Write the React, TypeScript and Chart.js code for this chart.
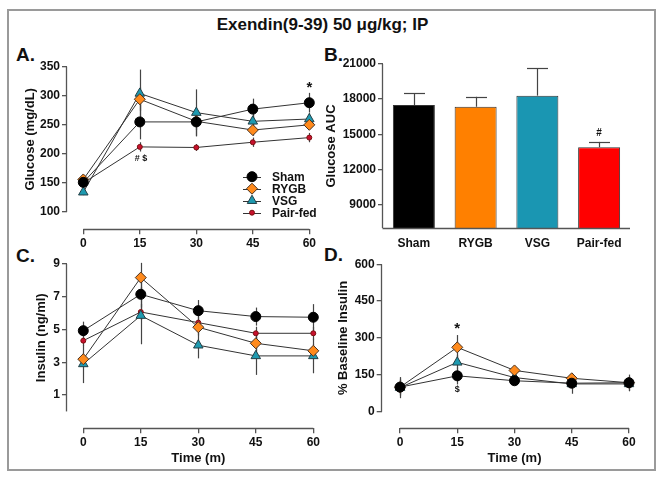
import React, { useEffect, useRef } from 'react';
import { Chart, registerables } from 'chart.js';
Chart.register(...registerables);

const FONT = '"Liberation Sans", Arial, Helvetica, sans-serif';
const CANVAS_FONT = 'Arial';

// ---------- data ----------
const times = [0, 15, 30, 45, 60];
const timeTicks = [0, 15, 30, 45, 60];
const groups = ['Sham', 'RYGB', 'VSG', 'Pair-fed'];

// A. Glucose (mg/dL)
const glucoseSham = [151, 255, 255, 277, 288];
const glucoseShamErr = [6, 30, 25, 18, 17];
const glucoseRygb = [156, 294, 256, 241, 250];
const glucoseRygbErr = [5, 20, 15, 10, 8];
const glucoseVsg = [134, 304, 271, 256, 260];
const glucoseVsgErr = [5, 41, 40, 12, 10];
const glucosePair = [150, 212, 211, 220, 228];
const glucosePairErr = [5, 8, 6, 8, 8];
const glucoseTicks = [100, 150, 200, 250, 300, 350];

// B. Glucose AUC
const aucValues = [17500, 17350, 18300, 13900];
const aucErr = [1000, 850, 2350, 450];
const aucTicks = [9000, 12000, 15000, 18000, 21000];
const aucColors = ['#000000', '#FF8000', '#1A96B2', '#FF0000'];

// C. Insulin (ng/ml)
const insulinSham = [4.93, 7.15, 6.15, 5.79, 5.75];
const insulinShamErr = [0.55, 0.8, 0.65, 0.55, 0.8];
const insulinRygb = [3.19, 8.17, 5.14, 4.16, 3.7];
const insulinRygbErr = [0.3, 0.9, 0.5, 0.5, 0.4];
const insulinVsg = [2.9, 5.85, 4.04, 3.39, 3.39];
const insulinVsgErr = [1.17, 1.75, 0.8, 1.16, 1.06];
const insulinPair = [4.32, 6.07, 5.42, 4.77, 4.77];
const insulinPairErr = [0.3, 0.5, 0.4, 0.4, 0.4];
const insulinTicks = [1, 3, 5, 7, 9];

// D. % Baseline Insulin
const pctSham = [100, 146, 126, 116, 118];
const pctShamErr = [35, 35, 15, 20, 33];
const pctRygb = [100, 262, 168, 136, 118];
const pctRygbErr = [30, 50, 15, 20, 20];
const pctVsg = [98, 201, 139, 113, 113];
const pctVsgErr = [43, 30, 15, 40, 30];
const pctTicks = [0, 150, 300, 450, 600];

// ---------- styles ----------
const markerStyles: Record<string, any> = {
  Sham: { pointStyle: 'circle', radius: 5, bg: '#000000', border: '#000000' },
  RYGB: { pointStyle: 'rectRot', radius: 5.5, bg: '#FF8A1C', border: '#4a3220' },
  VSG: { pointStyle: 'triangle', radius: 5.5, bg: '#1E9AB0', border: '#233f46' },
  'Pair-fed': { pointStyle: 'circle', radius: 2.5, bg: '#C8102E', border: '#7a1010' },
};

const AXIS_COLOR = '#555';
const tickFont = { family: FONT, size: 12, weight: 'bold' as const };

function drawMarker(ctx: CanvasRenderingContext2D, name: string, x: number, y: number) {
  const s = markerStyles[name];
  const r = s.radius;
  ctx.beginPath();
  if (s.pointStyle === 'circle') {
    ctx.arc(x, y, r, 0, Math.PI * 2);
  } else if (s.pointStyle === 'rectRot') {
    ctx.moveTo(x - r, y); ctx.lineTo(x, y - r); ctx.lineTo(x + r, y); ctx.lineTo(x, y + r); ctx.closePath();
  } else {
    const a = (2 * Math.PI) / 3;
    ctx.moveTo(x, y - r);
    ctx.lineTo(x + Math.sin(a) * r, y - Math.cos(a) * r);
    ctx.lineTo(x + Math.sin(2 * a) * r, y - Math.cos(2 * a) * r);
    ctx.closePath();
  }
  ctx.fillStyle = s.bg; ctx.strokeStyle = s.border; ctx.lineWidth = 1;
  ctx.fill(); ctx.stroke();
}

const panelPlugin = {
  id: 'panel',
  beforeDatasetsDraw(chart: any, _a: any, opts: any) {
    const ctx = chart.ctx as CanvasRenderingContext2D;
    const ys = chart.scales.y;
    ctx.save();
    ctx.strokeStyle = '#444';
    ctx.lineWidth = 1.2;
    chart.data.datasets.forEach((ds: any, i: number) => {
      const errs = ds.errors;
      if (!errs) return;
      const meta = chart.getDatasetMeta(i);
      meta.data.forEach((el: any, j: number) => {
        const d = ds.data[j];
        const v = typeof d === 'number' ? d : d.y;
        const top = ys.getPixelForValue(v + errs[j]);
        const bot = opts.errUpOnly ? el.y : ys.getPixelForValue(v - errs[j]);
        const x = Math.round(el.x) + 0.5;
        ctx.beginPath(); ctx.moveTo(x, top); ctx.lineTo(x, bot); ctx.stroke();
        if (opts.capWidth) {
          ctx.beginPath();
          ctx.moveTo(x - opts.capWidth / 2, Math.round(top) + 0.5);
          ctx.lineTo(x + opts.capWidth / 2, Math.round(top) + 0.5);
          ctx.stroke();
        }
      });
    });
    ctx.restore();
  },
  afterDraw(chart: any, _a: any, opts: any) {
    const ctx = chart.ctx as CanvasRenderingContext2D;
    const xs = chart.scales.x, ys = chart.scales.y, ca = chart.chartArea;
    ctx.save();
    // axis lines
    ctx.strokeStyle = AXIS_COLOR;
    ctx.lineWidth = 1.3;
    const yx = Math.round(ca.left) - 0.5;
    ctx.beginPath();
    ctx.moveTo(yx, ys.getPixelForValue(opts.yLine[0]));
    ctx.lineTo(yx, ys.getPixelForValue(opts.yLine[1]));
    ctx.stroke();
    const xy = Math.round(ca.bottom) + 0.5;
    ctx.beginPath();
    if (opts.xLine) {
      ctx.moveTo(xs.getPixelForValue(opts.xLine[0]), xy);
      ctx.lineTo(xs.getPixelForValue(opts.xLine[1]), xy);
    } else {
      ctx.moveTo(yx, xy);
      ctx.lineTo(ca.right, xy);
    }
    ctx.stroke();

    ctx.fillStyle = '#111';
    ctx.textAlign = 'center';
    ctx.textBaseline = 'middle';
    const titleFont = `bold 13px ${CANVAS_FONT}`;
    // y title
    if (opts.yTitle) {
      const cy = (ys.getPixelForValue(opts.yLine[0]) + ys.getPixelForValue(opts.yLine[1])) / 2;
      ctx.save();
      ctx.font = titleFont;
      ctx.translate(ca.left - opts.yTitleDx, cy);
      ctx.rotate(-Math.PI / 2);
      ctx.fillText(String(opts.yTitle), 0, 0);
      ctx.restore();
    }
    // x title
    if (opts.xTitle) {
      const cx = opts.xLine
        ? (xs.getPixelForValue(opts.xLine[0]) + xs.getPixelForValue(opts.xLine[1])) / 2
        : (ca.left + ca.right) / 2;
      ctx.font = titleFont;
      ctx.fillText(String(opts.xTitle), cx, ca.bottom + opts.xTitleDy);
    }
    // annotations
    (opts.notes || []).forEach((n: any) => {
      ctx.font = `bold ${n.size}px ${CANVAS_FONT}`;
      ctx.fillText(n.text, xs.getPixelForValue(n.x), ys.getPixelForValue(n.y));
    });
    // legend
    if (opts.legend) {
      const L = opts.legend;
      chart.data.datasets.forEach((ds: any, i: number) => {
        const y = L.y + i * L.rowH;
        ctx.strokeStyle = '#333';
        ctx.lineWidth = 1;
        ctx.beginPath();
        ctx.moveTo(L.x, Math.round(y) + 0.5);
        ctx.lineTo(L.x + L.lineLen, Math.round(y) + 0.5);
        ctx.stroke();
        drawMarker(ctx, ds.label, L.x + L.lineLen / 2, y);
        ctx.fillStyle = '#111';
        ctx.textAlign = 'left';
        ctx.font = `bold 12px ${CANVAS_FONT}`;
        ctx.fillText(ds.label, L.x + L.lineLen + L.gap, y + 0.5);
      });
    }
    ctx.restore();
  },
};

function lineConfig(p: any) {
  return {
    type: 'line',
    data: {
      datasets: p.series.map((s: any) => {
        const st = markerStyles[s.name];
        return {
          label: s.name,
          data: times.map((t, i) => ({ x: t, y: s.values[i] })),
          errors: s.errors,
          borderColor: '#333',
          borderWidth: 1,
          tension: 0,
          fill: false,
          clip: false,
          pointStyle: st.pointStyle,
          pointRadius: st.radius,
          pointHoverRadius: st.radius,
          pointBackgroundColor: st.bg,
          pointBorderColor: st.border,
          pointBorderWidth: 1,
        };
      }),
    },
    options: {
      animation: false,
      responsive: false,
      devicePixelRatio: 1,
      events: [],
      layout: { padding: p.padding },
      plugins: {
        legend: { display: false },
        tooltip: { enabled: false },
        panel: p.panel,
      },
      scales: {
        x: {
          type: 'linear',
          min: p.xMin,
          max: p.xMax,
          afterBuildTicks: (s: any) => { s.ticks = timeTicks.map((v) => ({ value: v })); },
          afterFit: (s: any) => { s.height = p.xHeight; },
          grid: { display: true, drawOnChartArea: false, drawTicks: true, tickLength: 5, color: AXIS_COLOR, lineWidth: 1.3 },
          border: { display: false },
          ticks: { font: tickFont, color: '#111', padding: 2, autoSkip: false, maxRotation: 0, callback: (v: any) => String(v) },
        },
        y: {
          type: 'linear',
          min: p.yMin,
          max: p.yMax,
          afterBuildTicks: (s: any) => { s.ticks = p.yTicks.map((v: number) => ({ value: v })); },
          afterFit: (s: any) => { s.width = p.yWidth; },
          grid: { display: true, drawOnChartArea: false, drawTicks: true, tickLength: 5, color: AXIS_COLOR, lineWidth: 1.3 },
          border: { display: false },
          ticks: { font: tickFont, color: '#111', padding: 2, autoSkip: false, callback: (v: any) => String(v) },
        },
      },
    },
    plugins: [panelPlugin],
  };
}

const configA = lineConfig({
  series: [
    { name: 'Sham', values: glucoseSham, errors: glucoseShamErr },
    { name: 'RYGB', values: glucoseRygb, errors: glucoseRygbErr },
    { name: 'VSG', values: glucoseVsg, errors: glucoseVsgErr },
    { name: 'Pair-fed', values: glucosePair, errors: glucosePairErr },
  ],
  xMin: -4.33, xMax: 60, yMin: 70.2, yMax: 350, yTicks: glucoseTicks,
  padding: { top: 26.7, right: 20.7, bottom: 0, left: 0 },
  yWidth: 67, xHeight: 25.7,
  panel: {
    yLine: [100, 350], xLine: [0, 60],
    yTitle: 'Glucose (mg/dL)', yTitleDx: 37,
    notes: [
      { x: 60, y: 313, text: '*', size: 15 },
      { x: 15.3, y: 192, text: '# $', size: 9 },
    ],
    legend: { x: 243, y: 136.7, rowH: 12, lineLen: 18, gap: 11 },
  },
});

const configC = lineConfig({
  series: [
    { name: 'Sham', values: insulinSham, errors: insulinShamErr },
    { name: 'RYGB', values: insulinRygb, errors: insulinRygbErr },
    { name: 'VSG', values: insulinVsg, errors: insulinVsgErr },
    { name: 'Pair-fed', values: insulinPair, errors: insulinPairErr },
  ],
  xMin: -4.25, xMax: 60, yMin: -1.03, yMax: 9, yTicks: insulinTicks,
  padding: { top: 19, right: 16.7, bottom: 0, left: 0 },
  yWidth: 67, xHeight: 51.7,
  panel: {
    yLine: [0, 9], xLine: [0, 60],
    yTitle: 'Insulin (ng/ml)', yTitleDx: 26,
    xTitle: 'Time (m)', xTitleDy: 30,
  },
});

const configD = lineConfig({
  series: [
    { name: 'Sham', values: pctSham, errors: pctShamErr },
    { name: 'RYGB', values: pctRygb, errors: pctRygbErr },
    { name: 'VSG', values: pctVsg, errors: pctVsgErr },
  ],
  xMin: -4.8, xMax: 60, yMin: -67.6, yMax: 600, yTicks: pctTicks,
  padding: { top: 19.3, right: 34, bottom: 0, left: 0 },
  yWidth: 66.7, xHeight: 51.7,
  panel: {
    yLine: [0, 600], xLine: [0, 60],
    yTitle: '% Baseline Insulin', yTitleDx: 38,
    xTitle: 'Time (m)', xTitleDy: 30,
    notes: [
      { x: 15, y: 338, text: '*', size: 15 },
      { x: 15, y: 92, text: '$', size: 9 },
    ],
  },
});

const configB = {
  type: 'bar',
  data: {
    labels: groups,
    datasets: [
      {
        label: 'AUC',
        data: aucValues,
        errors: aucErr,
        backgroundColor: aucColors,
        borderColor: '#333',
        borderWidth: 1,
        barPercentage: 0.68,
        categoryPercentage: 1,
      },
    ],
  },
  options: {
    animation: false,
    responsive: false,
    devicePixelRatio: 1,
    events: [],
    layout: { padding: { top: 24, right: 33, bottom: 0, left: 0 } },
    plugins: {
      legend: { display: false },
      tooltip: { enabled: false },
      panel: {
        yLine: [7000, 21000],
        yTitle: 'Glucose AUC', yTitleDx: 52,
        errUpOnly: true, capWidth: 21,
        notes: [{ x: 3, y: 15100, text: '#', size: 10 }],
      },
    },
    scales: {
      x: {
        type: 'category',
        afterFit: (s: any) => { s.height = 27; },
        grid: { display: false },
        border: { display: false },
        ticks: { font: tickFont, color: '#111', padding: 0, autoSkip: false, maxRotation: 0 },
      },
      y: {
        type: 'linear',
        min: 7000,
        max: 21000,
        afterBuildTicks: (s: any) => { s.ticks = aucTicks.map((v) => ({ value: v })); },
        afterFit: (s: any) => { s.width = 68; },
        grid: { display: true, drawOnChartArea: false, drawTicks: true, tickLength: 5, color: AXIS_COLOR, lineWidth: 1.3 },
        border: { display: false },
        ticks: { font: tickFont, color: '#111', padding: 2, autoSkip: false, callback: (v: any) => String(v) },
      },
    },
  },
  plugins: [panelPlugin],
};

function Panel({ config, left, top, width, height }: any) {
  const ref = useRef<HTMLCanvasElement>(null);
  useEffect(() => {
    const chart = new Chart(ref.current as HTMLCanvasElement, config as any);
    return () => chart.destroy();
  }, []);
  return (
    <canvas
      ref={ref}
      width={width}
      height={height}
      style={{ position: 'absolute', left, top, width, height }}
    />
  );
}

const letterStyle: React.CSSProperties = {
  position: 'absolute',
  font: `bold 19px ${FONT}`,
  lineHeight: '19px',
  color: '#111',
};

export default function App() {
  return (
    <div style={{ position: 'fixed', left: 0, top: 0, width: 663, height: 480, background: '#fff', overflow: 'hidden' }}>
      <div
        style={{
          position: 'absolute', left: 7, top: 9, width: 649, height: 462,
          border: '2px solid #9a9a9a', boxSizing: 'border-box',
        }}
      />
      <div
        style={{
          position: 'absolute', left: 0, top: 15, width: 645, textAlign: 'center',
          font: `bold 17px ${FONT}`, lineHeight: '20px', color: '#111',
        }}
      >
        Exendin(9-39) 50 μg/kg; IP
      </div>
      <div style={{ ...letterStyle, left: 16, top: 45.4 }}>A.</div>
      <div style={{ ...letterStyle, left: 324, top: 45.4 }}>B.</div>
      <div style={{ ...letterStyle, left: 16, top: 245.6 }}>C.</div>
      <div style={{ ...letterStyle, left: 324, top: 244.6 }}>D.</div>
      <Panel config={configA} left={0} top={40} width={330} height={215} />
      <Panel config={configB} left={315} top={40} width={348} height={215} />
      <Panel config={configC} left={0} top={245} width={330} height={235} />
      <Panel config={configD} left={315} top={245} width={348} height={235} />
    </div>
  );
}
